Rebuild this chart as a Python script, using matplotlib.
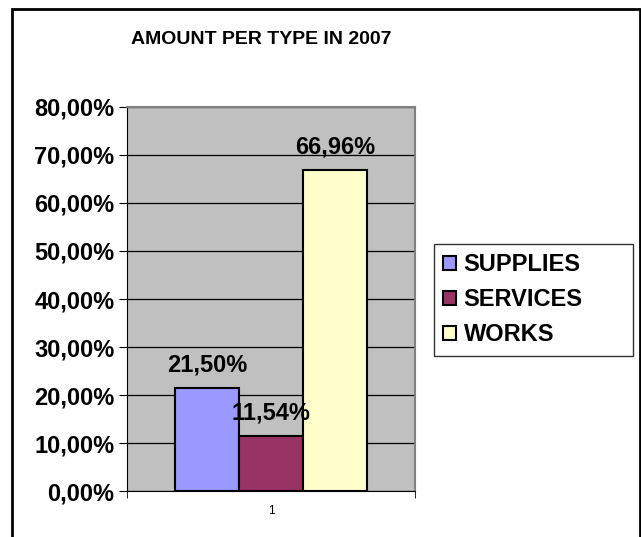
import matplotlib.pyplot as plt
import matplotlib.patches as patches
import numpy as np

plt.rcParams['font.family'] = ['Liberation Sans', 'DejaVu Sans']

types = ['SUPPLIES', 'SERVICES', 'WORKS']
amounts = [21.50, 11.54, 66.96]
colors = ['#9999FF', '#993366', '#FFFFCC']
yticks = np.arange(0, 81, 10)

W, H = 641, 537
fig = plt.figure(figsize=(W / 100, H / 100), dpi=100)

# outer chart border (bottom edge is cut off)
fig.add_artist(patches.Rectangle((12 / W, -0.05), 628 / W, (H - 9) / H + 0.05,
                                 transform=fig.transFigure, fill=False,
                                 edgecolor='black', linewidth=2))

ax = fig.add_axes([127 / W, 46 / H, 288 / W, 384 / H])
ax.set_facecolor('#C0C0C0')

width = 64 / 288
offsets = (np.arange(len(types)) - 1) * width
bars = []
for i, (name, val, col) in enumerate(zip(types, amounts, colors)):
    b = ax.bar(1 + offsets[i], val, width, color=col, edgecolor='black',
               linewidth=1.5, label=name, zorder=3)
    bars.append(b)
    ax.annotate(f'{val:.2f}%'.replace('.', ','), (1 + offsets[i], val),
                xytext=(0, 8), textcoords='offset points', ha='center',
                va='bottom', fontsize=17, fontweight='bold', zorder=4)

ax.set_xlim(0.5, 1.5)
ax.set_ylim(0, 80)
ax.set_yticks(yticks)
ax.set_yticklabels([f'{v:.2f}%'.replace('.', ',') for v in yticks],
                   fontsize=17, fontweight='bold')
ax.set_xticks([1])
ax.set_xticklabels(['1'], fontsize=8.5)
ax.tick_params(axis='x', length=0, pad=10)
ax.set_xticks([0.5, 1.5], minor=True)
ax.tick_params(axis='x', which='minor', length=5, direction='out')
ax.tick_params(axis='y', length=6, direction='out', pad=3)
ax.yaxis.grid(True, color='black', linewidth=0.9, zorder=1)
ax.set_axisbelow(True)
for s in ['top', 'right']:
    ax.spines[s].set_color('#808080')
    ax.spines[s].set_linewidth(1.5)
for s in ['left', 'bottom']:
    ax.spines[s].set_color('black')

fig.text(261 / W, 1 - 39 / H, 'AMOUNT PER TYPE IN 2007', ha='center',
         va='center', fontsize=14, fontweight='bold')

leg = fig.legend(handles=[b[0] for b in bars], labels=types,
                 loc='upper left',
                 bbox_to_anchor=(434 / W, 1 - 244 / H, 199 / W, 0),
                 mode='expand', fontsize=17,
                 frameon=True, fancybox=False, edgecolor='black',
                 handlelength=0.55, handleheight=0.55, handletextpad=0.3,
                 labelspacing=0.5, borderpad=0.4, borderaxespad=0)
leg.get_frame().set_linewidth(1)
for t in leg.get_texts():
    t.set_fontweight('bold')

fig.savefig('out.png', dpi=100)
